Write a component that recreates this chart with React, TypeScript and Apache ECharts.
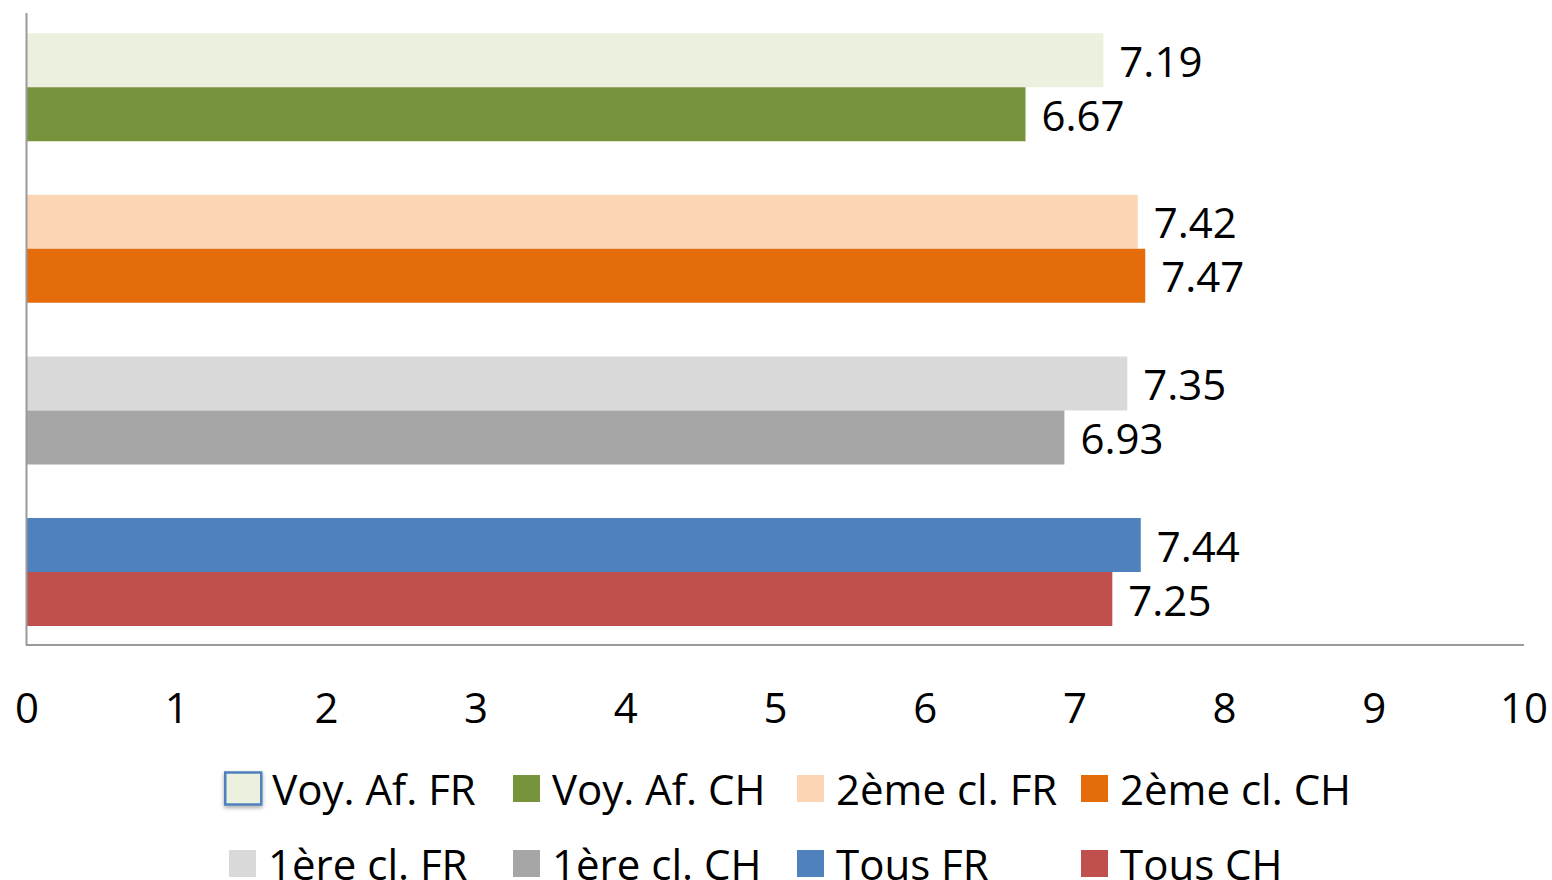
import React, { useEffect, useRef } from "react";
import * as echarts from "echarts";

const categories = ["Voy. Af.", "2ème cl.", "1ère cl.", "Tous"];
const frValues = [7.19, 7.42, 7.35, 7.44];
const chValues = [6.67, 7.47, 6.93, 7.25];
const frColors = ["#EBF1DE", "#FCD5B5", "#D9D9D9", "#4F81BD"];
const chColors = ["#77933C", "#E46C0A", "#A6A6A6", "#C0504D"];
const xTicks = [0, 1, 2, 3, 4, 5, 6, 7, 8, 9, 10];

const FONT = "'Open Sans', 'Noto Sans', sans-serif";

export default function App() {
  const ref = useRef<HTMLDivElement>(null);

  useEffect(() => {
    if (!ref.current) return;
    const chart = echarts.init(ref.current, null, { renderer: "svg" });

    const series: any[] = [];
    const colorByName: Record<string, string> = {};
    const labelCfg = {
      show: true,
      position: "right",
      distance: 16,
      fontSize: 42,
      fontFamily: FONT,
      color: "#000",
      formatter: (p: any) => Number(p.value).toFixed(2),
    };
    categories.forEach((cat, i) => {
      colorByName[`${cat} FR`] = frColors[i];
      colorByName[`${cat} CH`] = chColors[i];
      series.push({
        name: `${cat} FR`,
        type: "bar",
        stack: "FR",
        barWidth: 54,
        barGap: "0%",
        itemStyle: { color: frColors[i] },
        label: labelCfg,
        data: categories.map((_, j) => (j === i ? frValues[i] : null)),
      });
      series.push({
        name: `${cat} CH`,
        type: "bar",
        stack: "CH",
        barWidth: 54,
        barGap: "0%",
        itemStyle: { color: chColors[i] },
        label: labelCfg,
        data: categories.map((_, j) => (j === i ? chValues[i] : null)),
      });
    });

    const legendPos = [
      { name: "Voy. Af. FR", left: 224, top: 763.5, w: 36, h: 32, pad: 6 },
      { name: "Voy. Af. CH", left: 513, top: 763.5, w: 27, h: 27, pad: 7 },
      { name: "2ème cl. FR", left: 797, top: 763.5, w: 27, h: 27, pad: 7 },
      { name: "2ème cl. CH", left: 1081, top: 763.5, w: 27, h: 27, pad: 7 },
      { name: "1ère cl. FR", left: 229, top: 838.5, w: 27, h: 27, pad: 7 },
      { name: "1ère cl. CH", left: 513, top: 838.5, w: 27, h: 27, pad: 7 },
      { name: "Tous FR", left: 797, top: 838.5, w: 27, h: 27, pad: 7 },
      { name: "Tous CH", left: 1081, top: 838.5, w: 27, h: 27, pad: 7 },
    ];

    const legends = legendPos.map((l, idx) => {
      const itemStyle: any = { color: colorByName[l.name] };
      if (idx === 0) {
        itemStyle.borderColor = "#4F81BD";
        itemStyle.borderWidth = 2.5;
        itemStyle.shadowBlur = 4;
        itemStyle.shadowColor = "rgba(0,0,0,0.35)";
        itemStyle.shadowOffsetY = 2;
      }
      return {
        show: true,
        left: l.left,
        top: l.top,
        padding: 0,
        itemWidth: l.w,
        itemHeight: l.h,
        icon: "rect",
        selectedMode: false,
        itemStyle,
        textStyle: {
          fontSize: 42,
          fontFamily: FONT,
          color: "#000",
          lineHeight: 50,
          padding: [0, 0, 0, l.pad],
        },
        data: [{ name: l.name, itemStyle }],
      };
    });

    chart.setOption({
      animation: false,
      backgroundColor: "#fff",
      grid: { left: 27, right: 28, top: 6.5, height: 646.3 },
      xAxis: {
        type: "value",
        min: xTicks[0],
        max: xTicks[xTicks.length - 1],
        interval: 1,
        axisLine: { show: false },
        axisTick: { show: false },
        splitLine: { show: false },
        axisLabel: {
          fontSize: 42,
          fontFamily: FONT,
          color: "#000",
          margin: 33,
        },
      },
      yAxis: {
        type: "category",
        inverse: true,
        data: categories,
        axisLine: { show: false },
        axisTick: { show: false },
        axisLabel: { show: false },
        splitLine: { show: false },
      },
      legend: legends,
      graphic: [
        {
          type: "line",
          shape: { x1: 26.5, y1: 13, x2: 26.5, y2: 645.5 },
          style: { stroke: "#9a9a9a", lineWidth: 2 },
          z: 10,
        },
        {
          type: "line",
          shape: { x1: 26, y1: 645, x2: 1524, y2: 645 },
          style: { stroke: "#9a9a9a", lineWidth: 2 },
          z: 10,
        },
      ],
      series,
    });

    return () => chart.dispose();
  }, []);

  return (
    <div
      ref={ref}
      style={{ position: "fixed", left: 0, top: 0, width: 1552, height: 880 }}
    />
  );
}
